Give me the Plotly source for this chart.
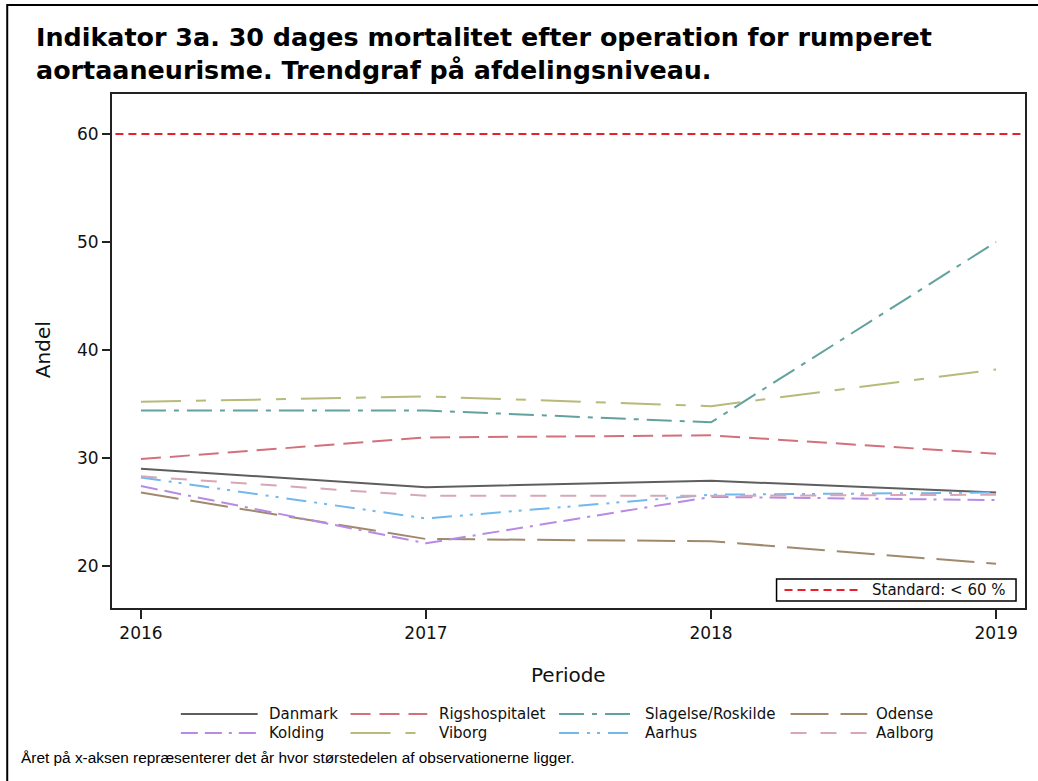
import plotly.graph_objects as go

# ---------------- data ----------------
years = [2016, 2017, 2018, 2019]
series_names = ["Danmark", "Rigshospitalet", "Slagelse/Roskilde", "Odense",
                "Kolding", "Viborg", "Aarhus", "Aalborg"]
danmark = [29.0, 27.3, 27.9, 26.8]
rigshospitalet = [29.9, 31.9, 32.1, 30.4]
slagelse_roskilde = [34.4, 34.4, 33.3, 50.0]
odense = [26.8, 22.5, 22.3, 20.2]
kolding = [27.4, 22.1, 26.4, 26.1]
viborg = [35.2, 35.7, 34.8, 38.2]
aarhus = [28.2, 24.4, 26.6, 26.8]
aalborg = [28.3, 26.5, 26.5, 26.6]
standard_value = 60
standard_label = "Standard: < 60 %"
y_ticks = [20, 30, 40, 50, 60]

title_line1 = "Indikator 3a. 30 dages mortalitet efter operation for rumperet"
title_line2 = "aortaaneurisme. Trendgraf på afdelingsniveau."
footnote = "Året på x-aksen repræsenterer det år hvor størstedelen af observationerne ligger."

values = [danmark, rigshospitalet, slagelse_roskilde, odense,
          kolding, viborg, aarhus, aalborg]

# ---------------- styles ----------------
colors = ["#5e5e5e", "#d4707c", "#62a29e", "#a08a6e",
          "#b88ae4", "#b7ba78", "#72b8ec", "#d8a6b6"]
dashes = ["solid", "20px,9px", "25px,8px,5px,8px", "38px,12px",
          "17px,7px,17px,7px,3px,7px", "40px,15px,10px,15px",
          "20px,8px,3px,7px,3px,8px", "16px,14px"]

W, H = 1038, 781
L, R, T, B = 112, 1027, 94, 608


def px(x):
    return (x - L) / (R - L)


def py(y):
    return (B - y) / (B - T)


fig = go.Figure()

# reference line
fig.add_trace(go.Scatter(
    x=[2015.5, 2019.5], y=[standard_value, standard_value], mode="lines",
    line=dict(color="#e8202a", width=2, dash="8px,5px"),
    showlegend=False, hoverinfo="skip"))

for name, vals, c, d in zip(series_names, values, colors, dashes):
    fig.add_trace(go.Scatter(
        x=years, y=vals, mode="lines", name=name,
        line=dict(color=c, width=2, dash=d), showlegend=False))

shapes = []
annotations = []

# outer frame
shapes.append(dict(type="rect", xref="paper", yref="paper",
                   x0=px(7), x1=px(1046), y0=py(5), y1=py(790),
                   line=dict(color="#000", width=2)))

# standard legend box (inside plot)
shapes.append(dict(type="rect", xref="paper", yref="paper",
                   x0=px(778), x1=px(1018), y0=py(579), y1=py(601),
                   line=dict(color="#000", width=1.5), fillcolor="white"))
shapes.append(dict(type="line", xref="paper", yref="paper",
                   x0=px(786), x1=px(863), y0=py(590), y1=py(590),
                   line=dict(color="#e8202a", width=2, dash="8px,5px")))
annotations.append(dict(text=standard_label, xref="paper", yref="paper",
                        x=px(872), y=py(590), xanchor="left", yanchor="middle",
                        showarrow=False,
                        font=dict(family="DejaVu Sans", size=15, color="#111")))

# series legend below plot (4 columns x 2 rows)
col_sample_x = [181, 351, 560, 792]
col_text_x = [267, 438, 644, 876]
row_y = [714, 733]
for i, (name, c, d) in enumerate(zip(series_names, colors, dashes)):
    r, col = divmod(i, 4)
    x0 = col_sample_x[col]
    shapes.append(dict(type="line", xref="paper", yref="paper",
                       x0=px(x0), x1=px(x0 + 77), y0=py(row_y[r]), y1=py(row_y[r]),
                       line=dict(color=c, width=2, dash=d)))
    annotations.append(dict(text=name, xref="paper", yref="paper",
                            x=px(col_text_x[col]), y=py(row_y[r]),
                            xanchor="left", yanchor="middle", showarrow=False,
                            font=dict(family="DejaVu Sans", size=15, color="#111")))

# title
annotations.append(dict(text="<b>" + title_line1 + "</b>", xref="paper", yref="paper",
                        x=px(34), y=py(37), xanchor="left", yanchor="middle",
                        showarrow=False,
                        font=dict(family="DejaVu Sans", size=25.4, color="#000")))
annotations.append(dict(text="<b>" + title_line2 + "</b>", xref="paper", yref="paper",
                        x=px(34), y=py(70), xanchor="left", yanchor="middle",
                        showarrow=False,
                        font=dict(family="DejaVu Sans", size=25.4, color="#000")))
# footnote
annotations.append(dict(text=footnote, xref="paper", yref="paper",
                        x=px(19), y=py(757), xanchor="left", yanchor="middle",
                        showarrow=False,
                        font=dict(family="Liberation Sans", size=15.4, color="#000")))
# axis titles
annotations.append(dict(text="Andel", xref="paper", yref="paper",
                        x=px(43), y=py(350), xanchor="center", yanchor="middle",
                        textangle=-90, showarrow=False,
                        font=dict(family="DejaVu Sans", size=20, color="#111")))
annotations.append(dict(text="Periode", xref="paper", yref="paper",
                        x=px(570), y=py(675), xanchor="center", yanchor="middle",
                        showarrow=False,
                        font=dict(family="DejaVu Sans", size=20, color="#111")))

x0r = 2016 - (141 - L) / ((998 - 141) / 3)
x1r = 2019 + (R - 998) / ((998 - 141) / 3)
y0r = 20 - (B - 566) / 10.8
y1r = 60 + (134 - T) / 10.8

fig.update_layout(
    width=W, height=H, autosize=False,
    margin=dict(l=L, r=W - R, t=T, b=H - B),
    paper_bgcolor="white", plot_bgcolor="white",
    shapes=shapes, annotations=annotations, showlegend=False,
    xaxis=dict(range=[x0r, x1r], tickvals=years, ticktext=[str(y) for y in years],
               showgrid=False, zeroline=False, showline=True, linecolor="#222",
               linewidth=2, mirror=True, ticks="outside", ticklen=9,
               tickwidth=2, tickcolor="#222",
               tickfont=dict(family="DejaVu Sans", size=17, color="#111")),
    yaxis=dict(range=[y0r, y1r], tickvals=y_ticks,
               showgrid=False, zeroline=False, showline=True, linecolor="#222",
               linewidth=2, mirror=True, ticks="outside", ticklen=8,
               tickwidth=2, tickcolor="#222",
               tickfont=dict(family="DejaVu Sans", size=17, color="#111")),
)

fig.write_html("out.html",
               config={"displayModeBar": False, "staticPlot": True},
               post_script="document.body.style.margin='0px';")
